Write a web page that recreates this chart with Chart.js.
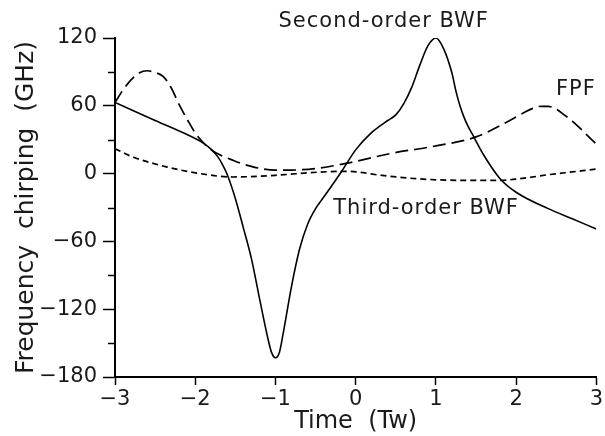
<!DOCTYPE html>
<html><head><meta charset="utf-8">
<script src="https://cdn.jsdelivr.net/npm/chart.js@4"></script>
<style>html,body{margin:0;padding:0;background:#fff}</style>
</head><body>
<canvas id="c" width="605" height="436"></canvas>
<script>
// ---- data ----
const secondT = [-3.0,-2.5,-2.0,-1.9,-1.8,-1.72,-1.66,-1.6,-1.5,-1.4,-1.3,-1.2,-1.1,-1.05,-1.0,-0.95,-0.9,-0.8,-0.7,-0.6,-0.5,-0.4,-0.3,-0.17,0.0,0.2,0.3,0.4,0.5,0.6,0.7,0.8,0.9,1.0,1.1,1.2,1.25,1.3,1.35,1.4,1.45,1.6,1.8,2.0,2.4,2.7,3.0];
const secondV = [63,47,31,27,21.5,15,8,-1,-22,-48,-75,-110,-144,-158,-163,-158,-140,-100,-67,-45,-31,-21,-11,2.5,21,36.5,42,47,52,62,76.5,96,113,120,110,89,73,60,50,42,35.5,16,-4.5,-16.5,-31,-40,-49];

const fpfT = [-3.0,-2.9,-2.8,-2.7,-2.6,-2.5,-2.4,-2.3,-2.2,-2.1,-2.0,-1.9,-1.8,-1.5,-1.28,-1.0,-0.87,-0.5,-0.12,0.45,1.0,1.5,2.0,2.1,2.2,2.3,2.4,2.5,2.6,2.7,2.8,2.9,3.0];
const fpfV = [63,74,83,89,91,89.5,86,76,61,48,36,27.5,21,11,6,3,3,4.5,9,18,24.5,32.5,50,54,57.5,59.5,59.5,57,52,46.5,40,33,26];

const thirdT = [-3.0,-2.77,-2.36,-1.94,-1.53,-1.0,-0.46,-0.12,0.33,0.75,1.36,1.78,2.1,2.4,2.7,3.0];
const thirdV = [22,14.5,6,0,-3,-1.5,1.3,2,-1.6,-4.5,-6,-6,-4,-1,1.5,4];

const xTicks = [-3,-2,-1,0,1,2,3];
const yTicks = [-180,-120,-60,0,60,120];
const yMinorTicks = [-150,-90,-30,30,90];

const seriesNames = ['Second-order BWF','FPF','Third-order BWF'];
const annotations = [
  {text:'Second-order BWF', t:0.35, v:135},
  {text:'FPF', t:2.745, v:74},
  {text:'Third-order BWF', t:0.878, v:-31}
];

// ---- chart ----
const FONT = "'DejaVu Sans', sans-serif";
const TXT = '#1a1a1a';
Chart.defaults.font.family = FONT;
Chart.defaults.color = TXT;
const fmt = v => (v < 0 ? '\u2212' + Math.abs(v) : String(v));
const pts = (T, V) => T.map((t, i) => ({x: t, y: V[i]}));

const minorTicks = {
  id: 'minorTicks',
  afterDraw(chart) {
    const {ctx, scales: {y}, chartArea} = chart;
    ctx.save();
    ctx.strokeStyle = '#000';
    ctx.lineWidth = 1.5;
    yMinorTicks.forEach(v => {
      const py = Math.round(y.getPixelForValue(v)) + 0.5;
      ctx.beginPath();
      ctx.moveTo(chartArea.left - 7, py);
      ctx.lineTo(chartArea.left, py);
      ctx.stroke();
    });
    ctx.restore();
  }
};

const textLabels = {
  id: 'textLabels',
  afterDraw(chart) {
    const {ctx, scales: {x, y}} = chart;
    ctx.save();
    ctx.fillStyle = TXT;
    ctx.font = "21px " + FONT;
    try { ctx.letterSpacing = '1px'; } catch (e) {}
    ctx.textAlign = 'center';
    ctx.textBaseline = 'middle';
    annotations.forEach(a => {
      ctx.fillText(a.text, x.getPixelForValue(a.t), y.getPixelForValue(a.v));
    });
    ctx.restore();
  }
};

const lineStyle = {borderColor:'#000', pointRadius:0, fill:false, cubicInterpolationMode:'monotone'};

new Chart(document.getElementById('c'), {
  type: 'line',
  data: {
    datasets: [
      Object.assign({label: seriesNames[0], data: pts(secondT, secondV), borderWidth: 1.6}, lineStyle),
      Object.assign({label: seriesNames[1], data: pts(fpfT, fpfV), borderWidth: 1.7, borderDash: [13, 6]}, lineStyle),
      Object.assign({label: seriesNames[2], data: pts(thirdT, thirdV), borderWidth: 1.7, borderDash: [6, 4]}, lineStyle)
    ]
  },
  options: {
    responsive: false,
    animation: false,
    layout: {padding: {left: 0, top: 38, right: 6, bottom: 0}},
    plugins: {legend: {display: false}, tooltip: {enabled: false}},
    scales: {
      x: {
        type: 'linear', min: -3, max: 3,
        afterBuildTicks: s => { s.ticks = xTicks.map(v => ({value: v})); },
        afterFit: s => { s.height = 59; },
        grid: {drawOnChartArea: false, tickLength: 8, tickColor: '#000', tickWidth: 1.5},
        border: {color: '#000', width: 2},
        ticks: {font: {size: 21}, padding: 2, callback: fmt, maxRotation: 0, autoSkip: false, color: TXT},
        title: {display: true, text: 'Time  (Tw)', font: {size: 24}, padding: {top: 0, bottom: 0}, color: TXT}
      },
      y: {
        type: 'linear', min: -180, max: 120,
        afterBuildTicks: s => { s.ticks = yTicks.map(v => ({value: v})); },
        afterFit: s => { s.width = 115; },
        grid: {drawOnChartArea: false, tickLength: 12, tickColor: '#000', tickWidth: 1.5},
        border: {color: '#000', width: 2},
        ticks: {font: {size: 21}, padding: 6, callback: fmt, autoSkip: false, color: TXT},
        title: {display: true, text: 'Frequency  chirping  (GHz)', font: {size: 25}, padding: {top: 11, bottom: 0}, color: TXT}
      }
    }
  },
  plugins: [minorTicks, textLabels]
});
</script>
</body></html>
